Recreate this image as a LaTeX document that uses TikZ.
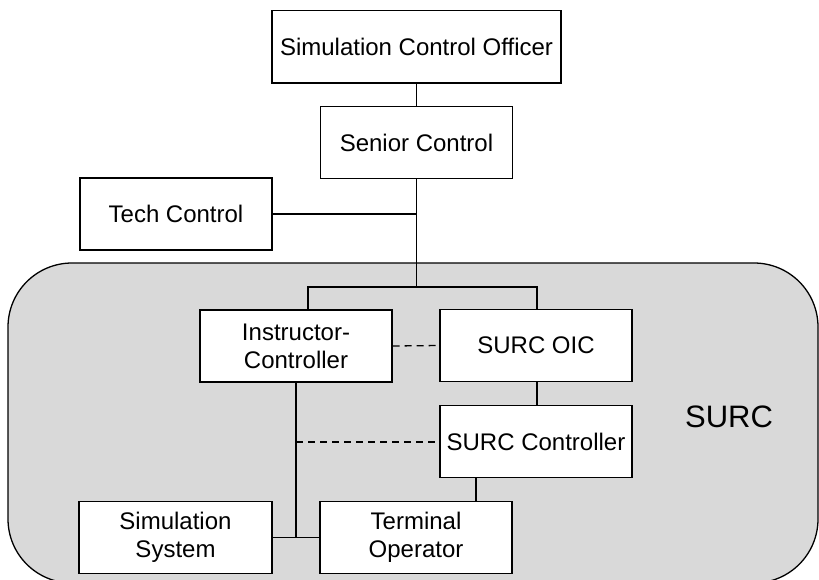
\documentclass[tikz,border=0pt]{standalone}
\usepackage{fontspec}
\setmainfont{Liberation Sans}
\definecolor{surcgray}{HTML}{D9D9D9}
\begin{document}
\begin{tikzpicture}[x=1pt,y=-1pt,
  box/.style={draw,fill=white,line width=1.3pt,inner sep=0pt,minimum width=192pt,minimum height=71.5pt,align=center,font=\fontsize{24}{28}\selectfont},
  conn/.style={line width=1.3pt},
  dconn/.style={line width=1.3pt,dash pattern=on 7pt off 5pt}]
\useasboundingbox (0,0) rectangle (819,580);
\draw[line width=1.3pt,fill=surcgray,rounded corners=64pt] (8,263) rectangle (818,583);
\node[font=\fontsize{31}{36}\selectfont] (surclbl) at (729,416.5) {SURC};

\node[box,minimum width=289pt,minimum height=72.5pt] (sco) at (416.5,46.75) {Simulation Control Officer};
\node[box] (senior) at (416.5,142.5) {Senior Control};
\node[box,minimum height=72pt] (tech) at (176,214) {Tech Control};
\node[box,minimum height=72pt] (instr) at (296,346) {Instructor-\\Controller};
\node[box] (oic) at (536,345.5) {SURC OIC};
\node[box] (surcc) at (536,441.5) {SURC Controller};
\node[box,minimum width=193pt] (simsys) at (175.5,537.5) {Simulation\\System};
\node[box] (term) at (416,537.5) {Terminal\\Operator};

\coordinate (barmid) at (416.5,287);
\coordinate (barL) at (308,287);
\coordinate (barR) at (537,287);
\coordinate (jlow) at (296,537.5);
\coordinate (jdash) at (296,442);

\draw[conn] (sco.south) -- (senior.north);
\draw[conn] (senior.south) -- (barmid);
\draw[conn] (tech.east) -- (tech.east -| senior.south);
\draw[conn] (barL |- instr.north) -- (barL) -- (barR) -- (barR |- oic.north);
\draw[dconn] (instr.east) -- (oic.west);
\draw[conn] (oic.south -| barR) -- (surcc.north -| barR);
\draw[conn] (instr.south) -- (jlow);
\draw[conn] (simsys.east) -- (term.west);
\draw[dconn] (jdash) -- (jdash -| surcc.west);
\draw[conn] (476,477.25) coordinate (sccb) -- (sccb |- term.north);
\end{tikzpicture}
\end{document}
